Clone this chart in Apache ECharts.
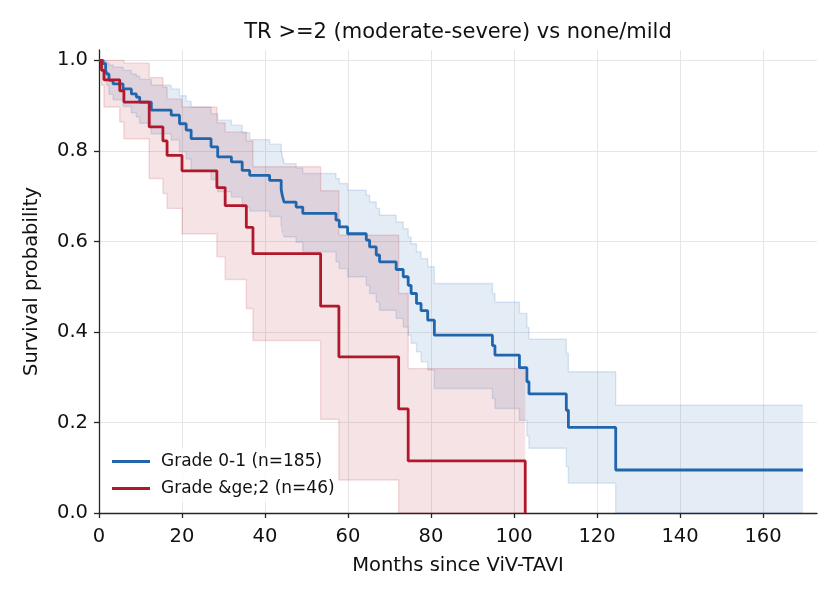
<!DOCTYPE html>
<html>
<head>
<meta charset="utf-8">
<script src="https://cdn.jsdelivr.net/npm/echarts@6/dist/echarts.min.js"></script>
<style>
  html, body { margin: 0; padding: 0; background: #ffffff; }
  #chart { width: 840px; height: 600px; }
</style>
</head>
<body>
<div id="chart"></div>
<script>
// ---------- Data ----------
const titleText = 'TR >=2 (moderate-severe) vs none/mild';
const xTicks = [0, 20, 40, 60, 80, 100, 120, 140, 160];
const yTicks = [0, 0.2, 0.4, 0.6, 0.8, 1.0];

// Grade 0-1 (n=185)
const blueName = 'Grade 0-1 (n=185)';
const blueTimes = [0, 1.0, 1.6, 1.9, 2.4, 3.4, 5.8, 7.8, 9.0, 9.8, 12.6, 17.4, 19.4, 21.0, 22.2, 27.0, 28.6, 31.9, 34.5, 36.3, 41.1, 43.9, 44.2, 44.6, 47.5, 49.1, 57.1, 57.9, 59.9, 64.4, 65.2, 66.8, 67.6, 71.6, 73.3, 74.5, 75.2, 76.5, 77.6, 79.2, 80.8, 94.8, 95.4, 101.3, 103.1, 103.6, 112.6, 113.1, 124.5, 169.6];
const blueSurv = [1.0, 0.993, 0.978, 0.970, 0.956, 0.948, 0.937, 0.926, 0.919, 0.908, 0.890, 0.879, 0.860, 0.846, 0.827, 0.809, 0.787, 0.776, 0.757, 0.746, 0.735, 0.715, 0.700, 0.687, 0.676, 0.662, 0.647, 0.632, 0.617, 0.603, 0.588, 0.570, 0.555, 0.538, 0.522, 0.503, 0.485, 0.463, 0.447, 0.426, 0.393, 0.370, 0.349, 0.321, 0.290, 0.263, 0.227, 0.189, 0.095, 0.095];
const blueUpper = [1.0, 1.0, 0.997, 0.995, 0.99, 0.985, 0.978, 0.97, 0.965, 0.958, 0.945, 0.937, 0.922, 0.91, 0.897, 0.882, 0.868, 0.857, 0.84, 0.825, 0.815, 0.80, 0.785, 0.772, 0.762, 0.75, 0.739, 0.728, 0.713, 0.702, 0.687, 0.673, 0.658, 0.643, 0.628, 0.61, 0.595, 0.577, 0.562, 0.544, 0.507, 0.485, 0.466, 0.441, 0.41, 0.384, 0.353, 0.312, 0.238, 0.238];
const blueLower = [1.0, 0.98, 0.959, 0.945, 0.925, 0.913, 0.898, 0.884, 0.875, 0.861, 0.838, 0.824, 0.798, 0.782, 0.757, 0.737, 0.71, 0.698, 0.676, 0.667, 0.655, 0.635, 0.62, 0.61, 0.598, 0.577, 0.555, 0.540, 0.522, 0.503, 0.485, 0.466, 0.448, 0.430, 0.411, 0.393, 0.375, 0.356, 0.334, 0.316, 0.275, 0.253, 0.231, 0.205, 0.17, 0.143, 0.102, 0.066, 0, 0];

// Grade >=2 (n=46)
const redName = 'Grade &ge;2 (n=46)';
const redTimes = [0, 0.6, 1.2, 5.0, 6.0, 12.1, 15.4, 16.4, 20.0, 28.4, 30.4, 35.5, 37.1, 53.4, 57.8, 72.2, 74.5, 102.7];
const redSurv = [1.0, 0.978, 0.957, 0.933, 0.908, 0.853, 0.822, 0.790, 0.756, 0.719, 0.679, 0.631, 0.573, 0.457, 0.345, 0.230, 0.115, 0.0];
const redUpper = [1.0, 1.0, 1.0, 1.0, 0.994, 0.962, 0.941, 0.915, 0.897, 0.862, 0.842, 0.822, 0.765, 0.712, 0.614, 0.485, 0.319, 0.319];
const redLower = [1.0, 0.945, 0.897, 0.864, 0.827, 0.739, 0.706, 0.673, 0.617, 0.566, 0.516, 0.452, 0.381, 0.207, 0.073, 0.0, 0.0, 0.0];

// ---------- Styling ----------
const BLUE = '#2166ac';
const RED = '#b2182b';
const TEXT = '#111111';
const FONT = 'DejaVu Sans';

function pairs(times, vals) {
  return times.map((t, i) => [t, vals[i]]);
}

function bandSeries(times, lo, hi, color) {
  return {
    type: 'custom',
    silent: true,
    z: 1,
    data: [[times[0], hi[0]]],
    renderItem: function (params, api) {
      const pts = [];
      for (let i = 0; i < times.length; i++) {
        if (i > 0) pts.push(api.coord([times[i], hi[i - 1]]));
        pts.push(api.coord([times[i], hi[i]]));
      }
      for (let i = times.length - 1; i >= 0; i--) {
        pts.push(api.coord([times[i], lo[i]]));
        if (i > 0) pts.push(api.coord([times[i], lo[i - 1]]));
      }
      return {
        type: 'polygon',
        shape: { points: pts },
        style: { fill: color, opacity: 1, stroke: null }
      };
    }
  };
}

function bandEdge(times, vals, color) {
  return {
    type: 'line',
    step: 'end',
    silent: true,
    showSymbol: false,
    z: 2,
    data: pairs(times, vals),
    lineStyle: { color: color, width: 1.4 },
    emphasis: { disabled: true }
  };
}

const chart = echarts.init(document.getElementById('chart'), null, { renderer: 'canvas' });

const option = {
  animation: false,
  backgroundColor: '#ffffff',
  textStyle: { fontFamily: FONT, color: TEXT },
  title: {
    text: titleText,
    left: 458,
    textAlign: 'center',
    top: 22,
    padding: 0,
    textStyle: { fontFamily: FONT, fontSize: 21, fontWeight: 'normal', color: TEXT }
  },
  grid: { left: 99, right: 23, top: 50, bottom: 87, containLabel: false },
  legend: {
    left: 106,
    top: 448,
    orient: 'vertical',
    padding: [4, 2, 4, 6],
    backgroundColor: 'rgba(255,255,255,0.8)',
    itemWidth: 38,
    itemHeight: 3,
    itemGap: 8,
    icon: 'rect',
    data: [
      { name: blueName, itemStyle: { color: BLUE } },
      { name: redName, itemStyle: { color: RED } }
    ],
    textStyle: { fontFamily: FONT, fontSize: 17, color: TEXT, lineHeight: 19, padding: [0, 0, 0, 6] }
  },
  xAxis: {
    type: 'value',
    min: 0,
    max: 173,
    interval: 20,
    name: 'Months since ViV-TAVI',
    nameLocation: 'middle',
    nameGap: 43,
    nameTextStyle: { fontFamily: FONT, fontSize: 19.5, color: TEXT },
    axisLine: { show: true, onZero: false, lineStyle: { color: '#262626', width: 1.3 } },
    axisTick: { show: true, inside: false, length: 5, customValues: xTicks, lineStyle: { color: '#262626', width: 1.3 } },
    axisLabel: { customValues: xTicks, fontFamily: FONT, fontSize: 19.5, color: TEXT, margin: 14 },
    splitLine: { show: true, lineStyle: { color: '#e6e6e6', width: 1 } }
  },
  yAxis: {
    type: 'value',
    min: 0,
    max: 1.023,
    interval: 0.2,
    name: 'Survival probability',
    nameLocation: 'middle',
    nameGap: 57,
    nameTextStyle: { fontFamily: FONT, fontSize: 19.5, color: TEXT },
    axisLine: { show: true, onZero: false, lineStyle: { color: '#262626', width: 1.3 } },
    axisTick: { show: true, inside: false, length: 5, customValues: yTicks, lineStyle: { color: '#262626', width: 1.3 } },
    axisLabel: { customValues: yTicks, fontFamily: FONT, fontSize: 19.5, color: TEXT, margin: 11,
      formatter: function (v) { return Number(v).toFixed(1); } },
    splitLine: { show: true, lineStyle: { color: '#e6e6e6', width: 1 } }
  },
  series: [
    bandSeries(blueTimes, blueLower, blueUpper, 'rgba(33,102,172,0.12)'),
    bandSeries(redTimes, redLower, redUpper, 'rgba(178,24,43,0.12)'),
    bandEdge(blueTimes, blueUpper, 'rgba(33,102,172,0.15)'),
    bandEdge(blueTimes, blueLower, 'rgba(33,102,172,0.15)'),
    bandEdge(redTimes, redUpper, 'rgba(178,24,43,0.15)'),
    bandEdge(redTimes, redLower, 'rgba(178,24,43,0.15)'),
    {
      name: blueName,
      type: 'line',
      step: 'end',
      showSymbol: false,
      z: 5,
      data: pairs(blueTimes, blueSurv),
      itemStyle: { color: BLUE },
      lineStyle: { color: BLUE, width: 2.8 }
    },
    {
      name: redName,
      type: 'line',
      step: 'end',
      showSymbol: false,
      z: 5,
      data: pairs(redTimes, redSurv),
      itemStyle: { color: RED },
      lineStyle: { color: RED, width: 2.8 }
    }
  ]
};

chart.setOption(option);
</script>
</body>
</html>
